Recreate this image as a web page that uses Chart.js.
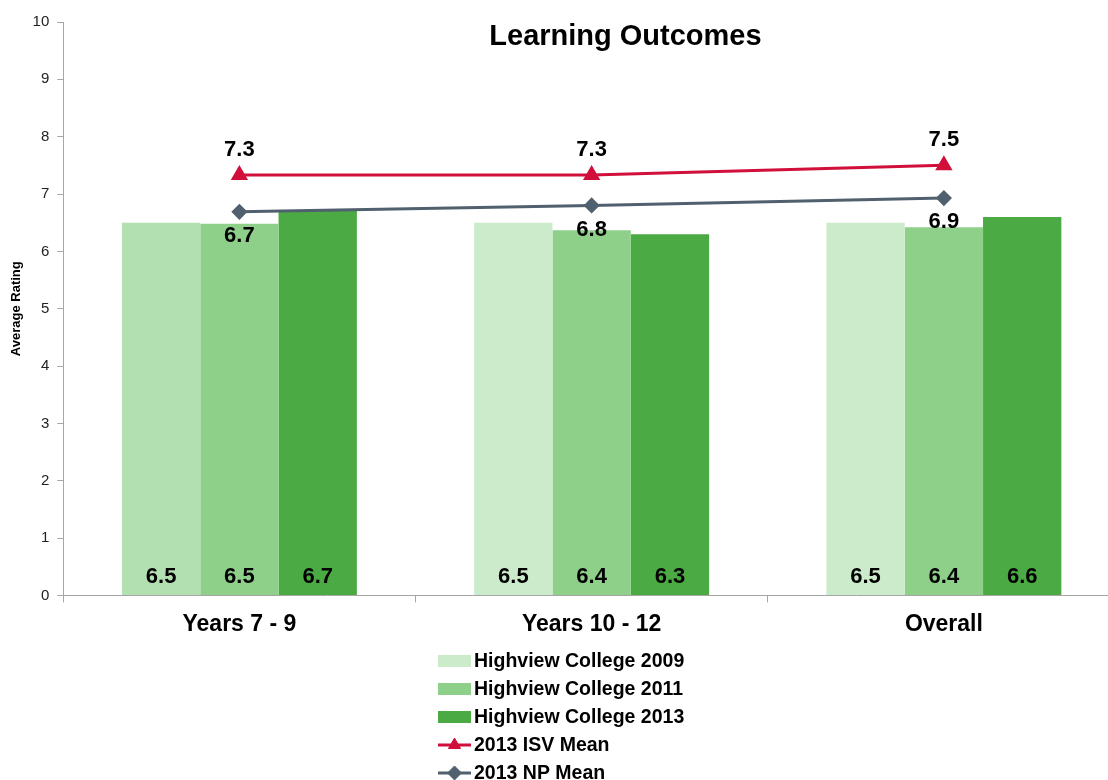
<!DOCTYPE html>
<html lang="en">
<head>
    <meta charset="UTF-8">
    <title>Learning Outcomes</title>
    <script src="https://cdn.jsdelivr.net/npm/chart.js@4.4.0/dist/chart.umd.min.js"></script>
    <style>
        body { margin: 0; background: #fff; }
        #wrap { width: 1108px; height: 780px; overflow: hidden; }
    </style>
</head>
<body>
    <div id="wrap">
        <canvas id="recuadro" width="1130" height="780"></canvas>
    </div>

    <script>
        const categorias = ['Years 7 - 9', 'Years 10 - 12', 'Overall'];
        const hv2009 = [6.5, 6.5, 6.5];
        const hv2011 = [6.48, 6.37, 6.42];
        const hv2013 = [6.72, 6.3, 6.6];
        const isvMean = [7.33, 7.33, 7.5];
        const npMean = [6.69, 6.8, 6.93];
        const yTicks = [0, 1, 2, 3, 4, 5, 6, 7, 8, 9, 10];

        const fuente = "Arial, 'Liberation Sans', sans-serif";

        // etiquetas de datos (barras abajo, lineas arriba / abajo)
        const etiquetas = {
            id: 'etiquetas',
            afterDatasetsDraw(chart) {
                const ctx = chart.ctx;
                const y0 = chart.scales.y.getPixelForValue(0);
                ctx.save();
                ctx.fillStyle = '#000';
                ctx.font = 'bold 22px ' + fuente;
                ctx.textAlign = 'center';
                ctx.textBaseline = 'middle';
                chart.data.datasets.forEach((ds, i) => {
                    const meta = chart.getDatasetMeta(i);
                    meta.data.forEach((el, j) => {
                        const txt = ds.data[j].toFixed(1);
                        if (ds.type === 'line') {
                            const dy = ds.label.includes('ISV') ? -25 : 24;
                            ctx.fillText(txt, el.x, el.y + dy);
                        } else {
                            ctx.fillText(txt, el.x, y0 - 18);
                        }
                    });
                });
                ctx.restore();
            }
        };

        const titulo = {
            id: 'titulo',
            afterDraw(chart) {
                const a = chart.chartArea;
                const ctx = chart.ctx;
                ctx.save();
                ctx.fillStyle = '#000';
                ctx.font = 'bold 29px ' + fuente;
                ctx.textAlign = 'center';
                ctx.textBaseline = 'middle';
                ctx.fillText('Learning Outcomes', a.left + (a.right - a.left) * 0.532, 37);
                ctx.restore();
            }
        };

        // leyenda vertical dibujada a mano
        const leyenda = {
            id: 'leyenda',
            afterDraw(chart) {
                const ctx = chart.ctx;
                ctx.save();
                ctx.font = 'bold 19.5px ' + fuente;
                let maxW = 0;
                chart.data.datasets.forEach(ds => { maxW = Math.max(maxW, ctx.measureText(ds.label).width); });
                const total = 33 + 3 + maxW;
                const x0 = Math.round(1122 / 2 - total / 2);
                chart.data.datasets.forEach((ds, i) => {
                    const y = 661 + i * 28;
                    if (ds.type === 'line') {
                        ctx.strokeStyle = ds.borderColor;
                        ctx.lineWidth = 3;
                        ctx.beginPath();
                        ctx.moveTo(x0, y);
                        ctx.lineTo(x0 + 33, y);
                        ctx.stroke();
                        ctx.fillStyle = ds.pointBackgroundColor;
                        ctx.strokeStyle = ds.pointBackgroundColor;
                        ctx.lineWidth = 1;
                        Chart.helpers.drawPoint(ctx, { pointStyle: ds.pointStyle, radius: 7, rotation: 0, borderWidth: 1 }, x0 + 16.5, y);
                    } else {
                        ctx.fillStyle = ds.legendColor;
                        ctx.fillRect(x0, y - 6, 33, 12);
                    }
                    ctx.fillStyle = '#000';
                    ctx.textAlign = 'left';
                    ctx.textBaseline = 'middle';
                    ctx.fillText(ds.label, x0 + 36, y + 1);
                });
                ctx.restore();
            }
        };

        const ctx = document.getElementById('recuadro').getContext('2d');
        const myChart = new Chart(ctx, {
            type: 'bar',
            data: {
                labels: categorias,
                datasets: [
                    { label: 'Highview College 2009', data: hv2009, order: 2,
                      backgroundColor: ['#B3E0B0', '#CCEBCB', '#CCEBCB'], legendColor: '#CCEBCB' },
                    { label: 'Highview College 2011', data: hv2011, order: 2,
                      backgroundColor: '#8ED08A', legendColor: '#8ED08A' },
                    { label: 'Highview College 2013', data: hv2013, order: 2,
                      backgroundColor: '#4BAA44', legendColor: '#4BAA44' },
                    { type: 'line', label: '2013 ISV Mean', data: isvMean, order: 0,
                      borderColor: '#D0103A', borderWidth: 3, pointStyle: 'triangle',
                      pointRadius: 7, pointBackgroundColor: '#D0103A', pointBorderColor: '#D0103A' },
                    { type: 'line', label: '2013 NP Mean', data: npMean, order: 0,
                      borderColor: '#51606E', borderWidth: 3, pointStyle: 'rectRot',
                      pointRadius: 6, pointBackgroundColor: '#51606E', pointBorderColor: '#51606E' }
                ]
            },
            options: {
                responsive: false,
                animation: false,
                devicePixelRatio: 1,
                datasets: { bar: { categoryPercentage: 0.667, barPercentage: 1 } },
                layout: { padding: { top: 22, right: 3, bottom: 134, left: 2 } },
                plugins: {
                    legend: { display: false },
                    title: { display: false },
                    tooltip: { enabled: false }
                },
                scales: {
                    x: {
                        grid: { offset: true, drawOnChartArea: false, drawTicks: true, tickLength: 7, color: '#A6A6A6' },
                        border: { color: '#A6A6A6', width: 1 },
                        ticks: { color: '#000', font: { family: fuente, size: 23, weight: 'bold' }, padding: 8 }
                    },
                    y: {
                        min: 0, max: 10,
                        afterBuildTicks: s => { s.ticks = yTicks.map(v => ({ value: v })); },
                        grid: { drawOnChartArea: false, drawTicks: true, tickLength: 6, color: '#A6A6A6' },
                        border: { color: '#A6A6A6', width: 1 },
                        ticks: { color: '#222', font: { family: fuente, size: 15 }, padding: 8 },
                        title: { display: true, text: 'Average Rating', color: '#000',
                                 font: { family: fuente, size: 13, weight: 'bold' }, padding: { top: 7, bottom: 0 } }
                    }
                }
            },
            plugins: [etiquetas, titulo, leyenda]
        });
    </script>
</body>
</html>
